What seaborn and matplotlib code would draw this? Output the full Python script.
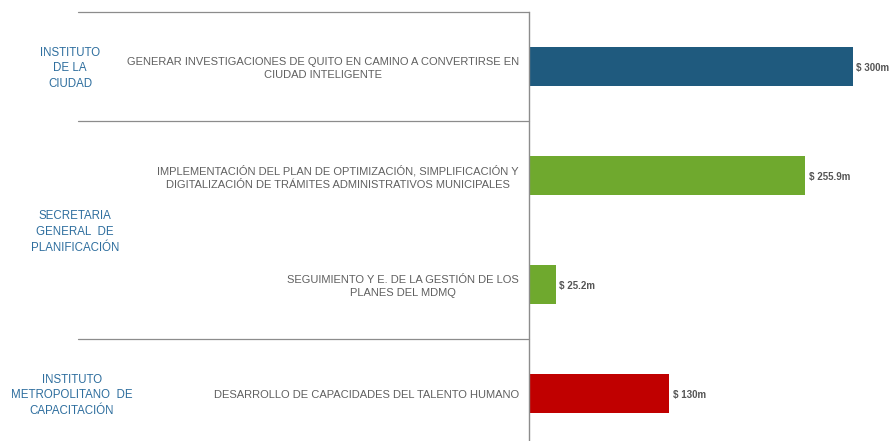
import numpy as np
import pandas as pd
import matplotlib
matplotlib.use("Agg")
import matplotlib.pyplot as plt
import seaborn as sns

# data
organizaciones = [
    "INSTITUTO\nDE LA\nCIUDAD",
    "SECRETARIA\nGENERAL  DE\nPLANIFICACIÓN",
    "SECRETARIA\nGENERAL  DE\nPLANIFICACIÓN",
    "INSTITUTO\nMETROPOLITANO  DE\nCAPACITACIÓN",
]
proyectos = [
    "GENERAR INVESTIGACIONES DE QUITO EN CAMINO A CONVERTIRSE EN\nCIUDAD INTELIGENTE",
    "IMPLEMENTACIÓN DEL PLAN DE OPTIMIZACIÓN, SIMPLIFICACIÓN Y\nDIGITALIZACIÓN DE TRÁMITES ADMINISTRATIVOS MUNICIPALES",
    "SEGUIMIENTO Y E. DE LA GESTIÓN DE LOS\nPLANES DEL MDMQ",
    "DESARROLLO DE CAPACIDADES DEL TALENTO HUMANO",
]
montos = [300.0, 255.9, 25.2, 130.0]
etiquetas = ["$ 300m", "$ 255.9m", "$ 25.2m", "$ 130m"]
colores = ["#1f5a7e", "#6fa92e", "#6fa92e", "#c00000"]

df = pd.DataFrame({"org": organizaciones, "proyecto": proyectos, "monto": montos})

sns.set_style("white")
plt.rcParams["font.family"] = ["Liberation Sans", "DejaVu Sans"]

fig = plt.figure(figsize=(8.94, 4.41), dpi=100)
ax = fig.add_axes([529 / 894, 0, 365 / 894, 429 / 441])

pal = {o: c for o, c in zip(organizaciones, colores)}
sns.barplot(data=df, x="monto", y="proyecto", hue="org", palette=pal,
            dodge=False, width=0.36, orient="h", legend=False, ax=ax,
            edgecolor="none", saturation=1)

ax.set_xlim(0, 338)
ax.set_ylim(3.436, -0.5)
ax.set_xlabel("")
ax.set_ylabel("")
ax.set_xticks([])
ax.set_yticklabels([])
ax.tick_params(axis="y", length=0)

for s in ["top", "right", "bottom"]:
    ax.spines[s].set_visible(False)
ax.spines["left"].set_color("#8c8c8c")
ax.spines["left"].set_linewidth(1.0)

trans = ax.get_yaxis_transform()
dy = 0.018  # small downward nudge so text sits like the original

# project labels (drawn by hand to control line spacing)
for i, p in enumerate(proyectos):
    ax.text(-10 / 365, i + dy, p, transform=trans, ha="right", va="center",
            multialignment="center", fontsize=8, color="#606060",
            linespacing=1.4, clip_on=False)

# value labels
for i, (v, t) in enumerate(zip(montos, etiquetas)):
    ax.text(v + 3, i + 0.01, t, va="center", ha="left", fontsize=7,
            fontweight="bold", color="#555555")

# group separators and org labels
x_left = (78 - 529) / 365
grupos = []
for i, o in enumerate(organizaciones):
    if not grupos or grupos[-1][0] != o:
        grupos.append([o, i, i])
    else:
        grupos[-1][2] = i
for k, (o, a, b) in enumerate(grupos):
    ax.plot([x_left, 0], [a - 0.5, a - 0.5], transform=trans, color="#8c8c8c",
            lw=0.9, clip_on=False)
    cx = {0: 70, 1: 75, 2: 72}[k]
    ax.text((cx - 529) / 365, (a + b) / 2 + dy, o, transform=trans, ha="center",
            va="center", fontsize=8.3, color="#2e6e9e", linespacing=1.4,
            clip_on=False)

fig.savefig("out.png", dpi=100)
